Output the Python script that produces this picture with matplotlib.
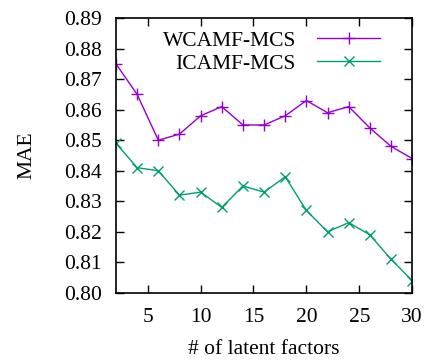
import matplotlib
matplotlib.use("Agg")
import matplotlib.pyplot as plt

# numero de fatores latentes e MAE de cada metodo
fatores = [2, 4, 6, 8, 10, 12, 14, 16, 18, 20, 22, 24, 26, 28, 30]
mae_wcamf = [0.875, 0.865, 0.850, 0.852, 0.858, 0.861, 0.855, 0.855,
             0.858, 0.863, 0.859, 0.861, 0.854, 0.848, 0.844]
mae_icamf = [0.849, 0.841, 0.840, 0.832, 0.833, 0.828, 0.835, 0.833,
             0.838, 0.827, 0.820, 0.823, 0.819, 0.811, 0.804]

xticks = [5, 10, 15, 20, 25, 30]
yticks = [0.80, 0.81, 0.82, 0.83, 0.84, 0.85, 0.86, 0.87, 0.88, 0.89]

plt.rcParams['font.family'] = ['Liberation Serif', 'DejaVu Serif']
plt.rcParams['font.size'] = 15.5

fig = plt.figure(figsize=(4.28, 3.62), dpi=100)
ax = fig.add_axes([0.271, 0.191, 0.692, 0.759])

ax.plot(fatores, mae_wcamf, color='#9400D3', lw=1.0, marker='+', ms=8, mew=1.0, label='WCAMF-MCS')
ax.plot(fatores, mae_icamf, color='#009E73', lw=1.0, marker='x', ms=7, mew=1.0, label='ICAMF-MCS')

ax.set_xlim(2, 30)
ax.set_ylim(0.80, 0.89)
ax.set_xticks(xticks)
ax.set_yticks(yticks)
ax.set_yticklabels([f"{v:.2f}" for v in yticks])
ax.tick_params(direction='in', top=True, right=True, length=6, width=1)
ax.tick_params(axis='y', pad=10)
ax.tick_params(axis='x', pad=11)
for s in ax.spines.values():
    s.set_linewidth(1.2)

ax.set_xlabel('# of latent factors', labelpad=9)
ax.set_ylabel('MAE', labelpad=20)

ax.legend(loc='upper right', frameon=False, markerfirst=False, handlelength=2.9,
          numpoints=1, labelspacing=0.12, borderaxespad=0.0, handletextpad=1.0,
          bbox_to_anchor=(0.92, 0.985))

fig.savefig('out.png', dpi=100)
